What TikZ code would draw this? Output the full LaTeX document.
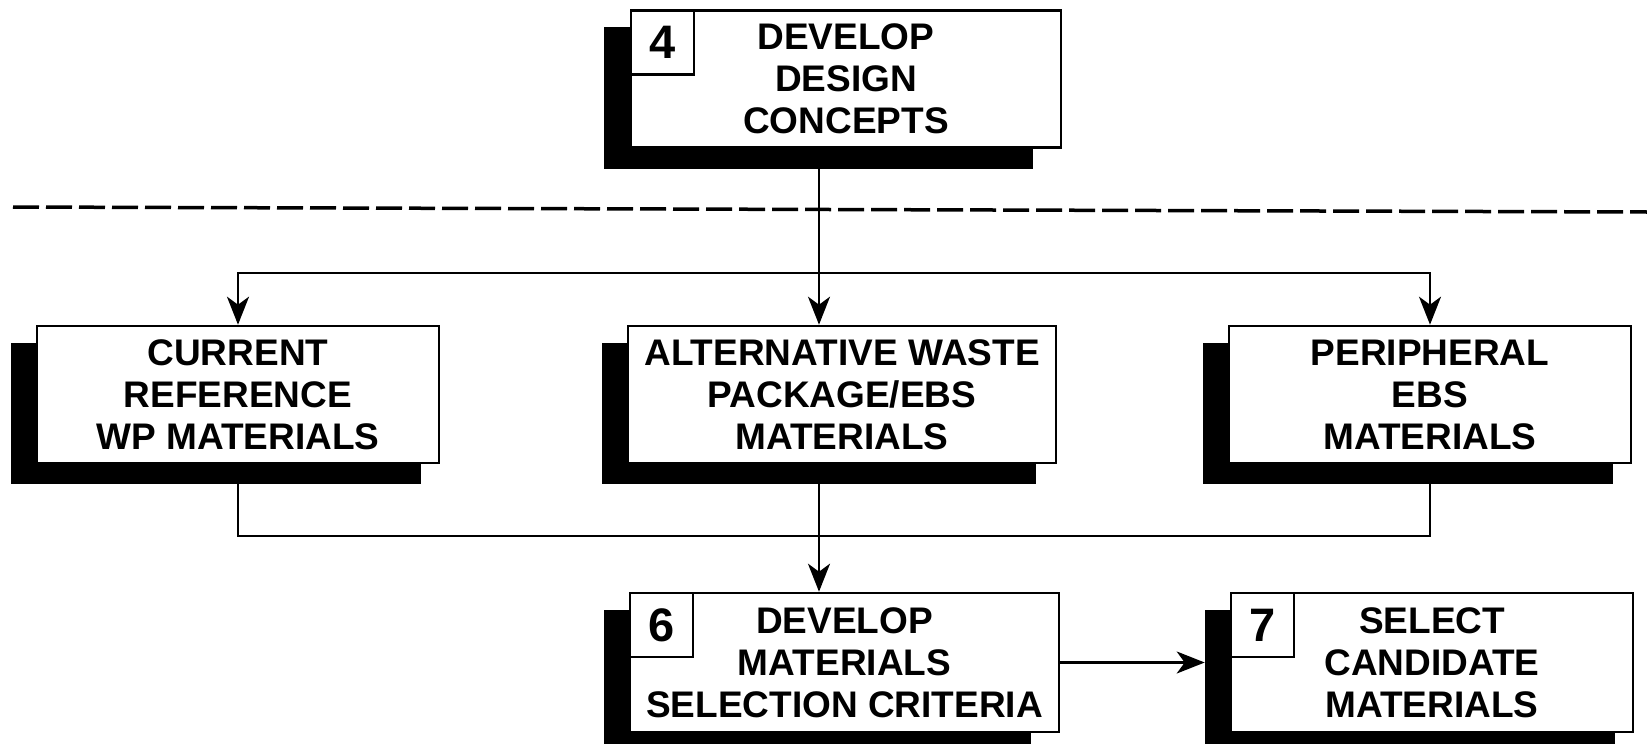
\documentclass[tikz,border=0pt]{standalone}
\usepackage{fontspec}
\setmainfont{Liberation Sans}
\usetikzlibrary{arrows.meta,backgrounds,calc}
\begin{document}
\begin{tikzpicture}[x=1pt,y=-1pt,
  wbox/.style={draw, line width=2.6pt, fill=white, inner sep=0pt, align=center,
    minimum height=137pt, font=\bfseries\fontsize{37}{42}\selectfont},
  numbox/.style={draw, line width=2.4pt, fill=white, inner sep=0pt, anchor=north west,
    minimum width=63pt, minimum height=64pt, font=\bfseries\fontsize{47}{47}\selectfont},
  conn/.style={line width=2.5pt},
  arr/.style={conn, -{Stealth[length=28pt,width=22pt,inset=8pt]}},
  shadowfill/.style={fill=black}
]
\useasboundingbox (0,0) rectangle (1647,744);

% dashed separator
\coordinate (dl) at (13,207);
\coordinate (dr) at (1647,212);
\draw[line width=3.5pt, dash pattern=on 26pt off 7pt] (dl) -- (dr);

% boxes
\node[wbox, minimum width=430pt] (b4) at (846,79) {DEVELOP\\DESIGN\\CONCEPTS};
\node[numbox] (n4) at (b4.north west) {4};

\node[wbox, minimum width=402pt] (cur) at (238,394.5) {CURRENT\\REFERENCE\\WP MATERIALS};
\node[wbox, minimum width=428pt] (alt) at (842,394.5) {ALTERNATIVE WASTE\\PACKAGE/EBS\\MATERIALS};
\node[wbox, minimum width=402pt] (per) at (1430,394.5) {PERIPHERAL\\EBS\\MATERIALS};

\node[wbox, minimum width=429pt, minimum height=139pt] (b6) at (844.5,662.5) {DEVELOP\\MATERIALS\\SELECTION CRITERIA};
\node[numbox] (n6) at (b6.north west) {6};
\node[wbox, minimum width=402pt, minimum height=139pt] (b7) at (1432,662.5) {SELECT\\CANDIDATE\\MATERIALS};
\node[numbox] (n7) at (b7.north west) {7};

% shadows
\begin{pgfonlayer}{background}
\fill[white] (0,0) rectangle (1647,744);
\fill[shadowfill] ([xshift=-26pt,yshift=-18pt]b4.north west) rectangle ([xshift=-29pt,yshift=-20pt]b4.south east);
\fill[shadowfill] ([xshift=-25pt,yshift=-18pt]cur.north west) rectangle ([xshift=-19pt,yshift=-20pt]cur.south east);
\fill[shadowfill] ([xshift=-25pt,yshift=-18pt]alt.north west) rectangle ([xshift=-21pt,yshift=-20pt]alt.south east);
\fill[shadowfill] ([xshift=-25pt,yshift=-18pt]per.north west) rectangle ([xshift=-19pt,yshift=-20pt]per.south east);
\fill[shadowfill] ([xshift=-25pt,yshift=-18pt]b6.north west) rectangle ([xshift=-29pt,yshift=-20pt]b6.south east);
\fill[shadowfill] ([xshift=-25pt,yshift=-18pt]b7.north west) rectangle ([xshift=-19pt,yshift=-20pt]b7.south east);
\end{pgfonlayer}

% connectors
\coordinate (j1) at (819,273);
\coordinate (j2) at (819,536);
\coordinate (b7s) at ([xshift=-25pt]b7.west);

\draw[conn] (b4.south -| j1) -- (j1);
\draw[arr] (j1) -- (alt.north -| j1);
\draw[arr] (j1) -| (cur.north);
\draw[arr] (j1) -| (per.north);

\draw[conn] (cur.south) |- (j2);
\draw[conn] (per.south) |- (j2);
\draw[conn] (alt.south -| j2) -- (j2);
\draw[arr] (j2) -- (b6.north -| j2);

\draw[arr] (b6.east) -- (b7s);
\end{tikzpicture}
\end{document}
